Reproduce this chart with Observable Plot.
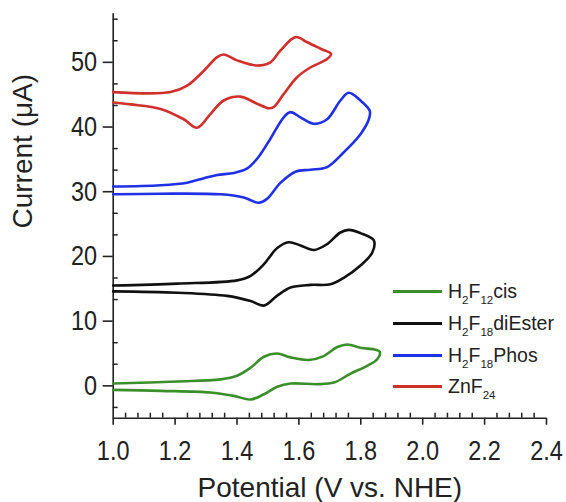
<!DOCTYPE html>
<html><head><meta charset="utf-8">
<script src="https://cdn.jsdelivr.net/npm/d3@7"></script>
<script src="https://cdn.jsdelivr.net/npm/@observablehq/plot@0.6"></script>
<style>
html,body{margin:0;padding:0;background:#fff;}
#wrap{position:relative;width:566px;height:502px;font-family:"Liberation Sans",Arial,sans-serif;}
.leg{position:absolute;left:393px;display:flex;align-items:center;height:26px;font-size:19.5px;color:#222;white-space:nowrap;}
.leg .sw{width:49px;height:3px;margin-right:6px;}
.leg .sb{font-size:11.5px;position:relative;top:6px;}
</style></head><body><div id="wrap"></div>
<script>
const seriesNames = ["H2F12cis", "H2F18diEster", "H2F18Phos", "ZnF24"];
const seriesColors = ["#3a8f2a", "#111111", "#1f30e6", "#d0302c"];

const greenX = [1.0, 1.207, 1.347, 1.40, 1.444, 1.487, 1.529, 1.573, 1.632, 1.680, 1.724, 1.756, 1.799, 1.861, 1.853, 1.821, 1.767, 1.713, 1.659, 1.573, 1.53, 1.487, 1.444, 1.39, 1.314, 1.153, 1.0];
const greenY = [0.36, 0.67, 1.0, 1.55, 2.8, 4.5, 5.0, 4.4, 4.0, 4.6, 6.0, 6.4, 5.9, 5.3, 4.1, 3.1, 1.9, 0.5, 0.26, 0.36, -0.15, -1.3, -2.1, -1.55, -1.03, -0.77, -0.62];

const blackX = [1.0, 1.207, 1.40, 1.444, 1.487, 1.53, 1.567, 1.605, 1.648, 1.691, 1.734, 1.761, 1.799, 1.842, 1.837, 1.799, 1.745, 1.702, 1.637, 1.573, 1.529, 1.487, 1.444, 1.368, 1.207, 1.0];
const blackY = [15.5, 15.8, 16.3, 17.0, 18.8, 21.3, 22.2, 21.7, 21.0, 21.9, 23.7, 24.1, 23.6, 22.5, 20.6, 18.6, 16.7, 15.7, 15.6, 15.2, 13.9, 12.4, 13.1, 13.9, 14.4, 14.6];

const blueX = [1.0, 1.153, 1.239, 1.293, 1.336, 1.39, 1.433, 1.465, 1.508, 1.551, 1.573, 1.605, 1.648, 1.691, 1.734, 1.761, 1.799, 1.829, 1.826, 1.799, 1.745, 1.691, 1.637, 1.589, 1.541, 1.497, 1.470, 1.422, 1.347, 1.153, 1.0];
const blueY = [30.8, 31.0, 31.4, 32.1, 32.6, 32.9, 33.6, 35.1, 38.2, 41.5, 42.3, 41.5, 40.5, 41.2, 44.1, 45.3, 44.1, 42.5, 41.2, 38.9, 36.1, 33.8, 33.4, 33.1, 31.4, 28.9, 28.3, 29.1, 29.6, 29.7, 29.6];

const redX = [1.0, 1.185, 1.239, 1.293, 1.336, 1.357, 1.40, 1.465, 1.508, 1.54, 1.589, 1.627, 1.67, 1.704, 1.691, 1.637, 1.594, 1.551, 1.519, 1.503, 1.465, 1.411, 1.357, 1.314, 1.271, 1.228, 1.153, 1.056, 1.0];
const redY = [45.4, 45.4, 46.4, 48.7, 50.8, 51.2, 50.3, 49.5, 50.0, 51.8, 53.9, 53.1, 52.1, 51.3, 50.5, 49.2, 47.7, 45.1, 43.1, 42.9, 43.6, 44.7, 44.1, 42.0, 39.9, 41.2, 42.8, 43.5, 43.8];

const xTicks = [1.0, 1.2, 1.4, 1.6, 1.8, 2.0, 2.2, 2.4];
const xTickLabels = ["1.0", "1.2", "1.4", "1.6", "1.8", "2.0", "2.2", "2.4"];
const yTicks = [0, 10, 20, 30, 40, 50];
const yTickLabels = ["0", "10", "20", "30", "40", "50"];
const xMinor = [1.04, 1.08, 1.12, 1.16, 1.24, 1.28, 1.32, 1.36, 1.44, 1.48, 1.52, 1.56, 1.64, 1.68, 1.72, 1.76,
  1.84, 1.88, 1.92, 1.96, 2.04, 2.08, 2.12, 2.16, 2.24, 2.28, 2.32, 2.36];
const yMinor = [-10 / 3, 10 / 3, 20 / 3, 40 / 3, 50 / 3, 70 / 3, 80 / 3, 100 / 3, 110 / 3, 130 / 3, 140 / 3, 160 / 3, 170 / 3];
const xDomain = [1.0, 2.4];
const yDomain = [-5, 57.5];
const xTitle = "Potential (V vs. NHE)";
const yTitle = "Current (μA)";

const pairs = [[greenX, greenY], [blackX, blackY], [blueX, blueY], [redX, redY]];
const rows = [];
pairs.forEach(([xs, ys], i) => xs.forEach((x, j) => rows.push({series: seriesNames[i], potential: x, current: ys[j]})));

const font = "Liberation Sans, Arial, sans-serif";
const axisColor = "#222";
const chart = Plot.plot({
  width: 566, height: 502,
  marginTop: 13.3, marginRight: 20, marginBottom: 84.3, marginLeft: 112.7,
  style: {fontFamily: font, background: "#fff", color: "#222"},
  x: {domain: xDomain, axis: null},
  y: {domain: yDomain, axis: null},
  color: {domain: seriesNames, range: seriesColors},
  marks: [
    // x ticks: major outward (down), minor inward (up)
    Plot.ruleX(xTicks, {x: d => d, y1: () => yDomain[0], y2: () => yDomain[0], insetTop: 0, insetBottom: -7, stroke: axisColor, strokeWidth: 1.6}),
    Plot.ruleX(xMinor, {x: d => d, y1: () => yDomain[0], y2: () => yDomain[0], insetTop: -5, insetBottom: 0, stroke: axisColor, strokeWidth: 1.5}),
    // y ticks: major outward (left), minor inward (right)
    Plot.ruleY(yTicks, {y: d => d, x1: () => xDomain[0], x2: () => xDomain[0], insetLeft: -10, insetRight: 0, stroke: axisColor, strokeWidth: 1.6}),
    Plot.ruleY(yMinor, {y: d => d, x1: () => xDomain[0], x2: () => xDomain[0], insetLeft: 0, insetRight: -5, stroke: axisColor, strokeWidth: 1.5}),
    Plot.ruleY([yDomain[0]], {stroke: axisColor, strokeWidth: 1.6}),
    Plot.ruleX([xDomain[0]], {stroke: axisColor, strokeWidth: 1.6}),
    // tick labels
    Plot.text(xTicks, {x: d => d, frameAnchor: "bottom", dy: 22, lineAnchor: "top", text: (d, i) => xTickLabels[i],
      fontSize: 28, fill: "#222", className: "ticklab"}),
    Plot.text(yTicks, {y: d => d, frameAnchor: "left", dx: -16, textAnchor: "end", text: (d, i) => yTickLabels[i],
      fontSize: 28, fill: "#222", className: "ticklab"}),
    // axis titles
    Plot.text([xTitle], {frameAnchor: "bottom", dy: 70, lineAnchor: "middle", text: d => d, fontSize: 28, fill: "#222"}),
    Plot.text([yTitle], {frameAnchor: "left", dx: -90, dy: 12.5, rotate: -90, lineAnchor: "middle", text: d => d, fontSize: 28, fill: "#222"}),
    Plot.line(rows, {x: "potential", y: "current", z: "series", stroke: "series", strokeWidth: 2.6, curve: "catmull-rom"})
  ]
});
document.getElementById("wrap").appendChild(chart);
chart.querySelectorAll('g.ticklab text, .ticklab text').forEach(t => {
  t.setAttribute("transform", (t.getAttribute("transform") || "") + " scale(0.84,1)");
});

const legendLabels = [
  ["H", "2", "F", "12", "cis"],
  ["H", "2", "F", "18", "diEster"],
  ["H", "2", "F", "18", "Phos"],
  ["ZnF", "24"]
];
const legendY = [291.7, 323.5, 355.2, 386.7];
legendLabels.forEach((parts, i) => {
  const d = document.createElement("div");
  d.className = "leg";
  d.style.top = (legendY[i] - 13) + "px";
  const sw = document.createElement("span");
  sw.className = "sw"; sw.style.background = seriesColors[i];
  d.appendChild(sw);
  const t = document.createElement("span");
  parts.forEach((p, k) => {
    const s = document.createElement("span");
    s.textContent = p;
    if (k % 2 === 1) s.className = "sb";
    t.appendChild(s);
  });
  d.appendChild(t);
  document.getElementById("wrap").appendChild(d);
});
</script></body></html>
